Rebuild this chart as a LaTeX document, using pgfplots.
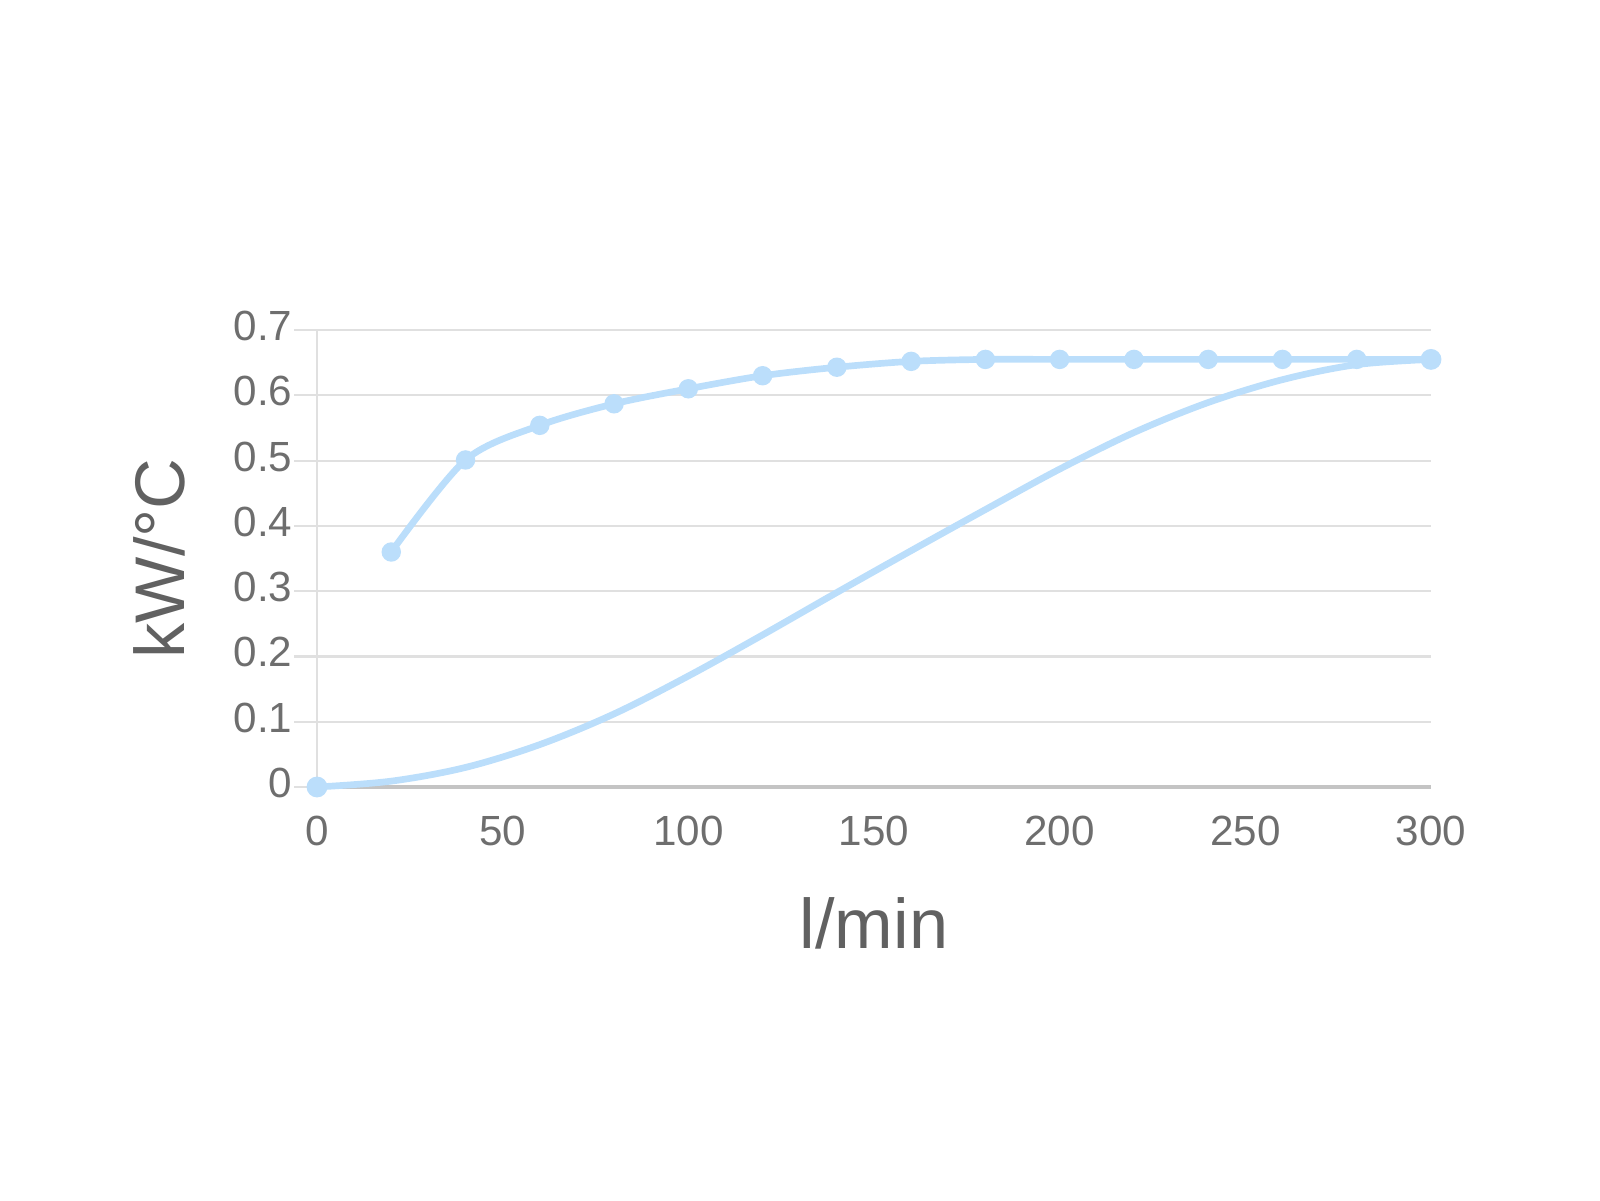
\documentclass[border=0pt]{standalone}
\usepackage{fontspec}
\setmainfont{Liberation Sans}
\usepackage{pgfplots}
\pgfplotsset{compat=1.18}
\definecolor{linecol}{HTML}{BBDEFB}
\definecolor{gridcol}{HTML}{E0E0E0}
\definecolor{axcol}{HTML}{C4C4C4}
\definecolor{tickcol}{HTML}{6E6E6E}
\definecolor{labcol}{HTML}{616161}
\begin{document}
\begin{tikzpicture}
\useasboundingbox (0,0) rectangle (16cm,12cm);
\begin{axis}[
  at={(3.17cm,4.13cm)}, anchor=south west,
  scale only axis, width=11.14cm, height=4.57cm,
  xmin=0, xmax=300, ymin=0, ymax=0.7,
  xtick={0,50,...,300},
  ytick={0,0.1,...,0.7},
  yticklabels={0,0.1,0.2,0.3,0.4,0.5,0.6,0.7},
  axis x line*=bottom, axis y line*=left,
  x axis line style={draw=axcol, line width=1.2pt, -},
  y axis line style={draw=gridcol, line width=0.6pt, -},
  ymajorgrids, grid style={draw=gridcol, line width=0.6pt},
  tick align=outside, major tick length=0.23cm,
  xtick style={draw=none},
  ytick style={draw=gridcol, line width=0.6pt},
  ticklabel style={font=\fontsize{12}{14}\selectfont, text=tickcol},
  /pgf/number format/assume math mode=true,
  yticklabel style={inner sep=0pt, anchor=east, xshift=-0.01cm, yshift=0.04cm},
  xticklabel style={inner sep=0pt, anchor=north, yshift=-0.05cm},
  xlabel={l/min}, ylabel={kW/°C},
  label style={font=\fontsize{20}{24}\selectfont, text=labcol},
  xlabel style={at={(axis description cs:0.5,-0.3523)}, anchor=base},
  ylabel style={at={(axis description cs:-0.1185,0.5)}, anchor=base, rotate=0},
  clip=false,
]
\addplot[linecol, line width=1.9pt, smooth, tension=0.55, mark=*, mark size=2.0pt,
  mark indices={1,16}, mark options={fill=linecol, draw=linecol}] coordinates {
  (0,0) (20,0.009) (40,0.03) (60,0.065) (80,0.112) (100,0.17) (120,0.233)
  (140,0.298) (160,0.362) (180,0.425) (200,0.487) (220,0.543) (240,0.589)
  (260,0.624) (280,0.647) (300,0.655)
};
\addplot[linecol, line width=1.9pt, smooth, tension=0.5, mark=*, mark size=1.8pt,
  mark options={fill=linecol, draw=linecol}] coordinates {
  (20,0.36) (40,0.501) (60,0.554) (80,0.587) (100,0.61) (120,0.63)
  (140,0.643) (160,0.652) (180,0.655) (200,0.655) (220,0.655) (240,0.655)
  (260,0.655) (280,0.655) (300,0.655)
};
\end{axis}
\end{tikzpicture}
\end{document}
